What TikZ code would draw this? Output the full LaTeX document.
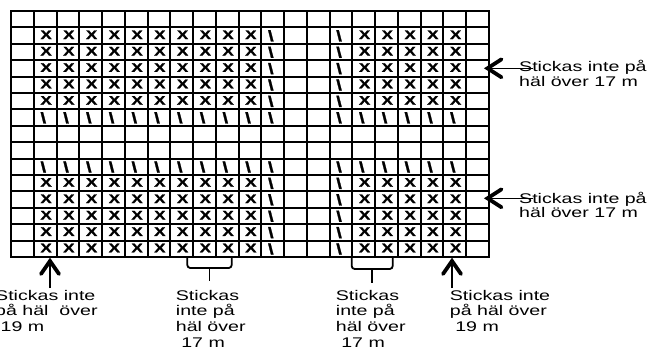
\documentclass[tikz,border=0pt]{standalone}
\usepackage{fontspec}
\setmainfont{Liberation Sans}
\newfontfamily\kcfont[FakeStretch=1.4]{Liberation Sans}
\newfontfamily\kcbold[FakeStretch=1.35,FakeBold=1.5]{Liberation Sans Bold}
\usetikzlibrary{arrows.meta}
\tikzset{
  kcgrid/.style={line width=2pt, line cap=rect},
  kcknit/.style={font=\kcbold\fontsize{12.5}{12.5}\selectfont, inner sep=0pt},
  kcslash/.style={font=\kcbold\fontsize{15}{15}\selectfont, inner sep=0pt},
  kclabel/.style={font=\kcfont\fontsize{14}{15.7}\selectfont, align=left, inner sep=0pt, anchor=base west},
  kcside/.style={kclabel, font=\kcfont\fontsize{14}{14.5}\selectfont},
  kcarrow/.style={line width=1.5pt},
  kchead/.style={line width=3.8pt, line cap=round, line join=miter},
  kcbrace/.style={line width=1.8pt, rounded corners=3pt}
}

\begin{document}
\begin{tikzpicture}[x=1pt,y=-1pt]
  \useasboundingbox (0,0) rectangle (650,349);
  % chart grid: 21 columns by 15 rows
  \foreach \c in {0,...,21}
    \draw[kcgrid] (11+22.75*\c,11) -- (11+22.75*\c,257);
  \foreach \r in {0,...,15}
    \draw[kcgrid] (11,11+16.4*\r) -- (488.75,11+16.4*\r);
  % stitches marked X in the two blocks
  \foreach \r in {2,3,4,5,6,11,12,13,14,15}
    \foreach \c in {2,3,4,5,6,7,8,9,10,11,16,17,18,19,20}
      \node[kcknit] (x-\r-\c) at (22.75*\c+0.6,16.4*\r+2) {X};
  % slanted stitches beside the blocks
  \foreach \r in {2,3,4,5,6,11,12,13,14,15}
    \foreach \c in {12,15}
      \node[kcslash] (s-\r-\c) at (22.75*\c-2.2,16.4*\r+3) {\textbackslash};
  \foreach \r in {7,10}
    \foreach \c in {2,3,4,5,6,7,8,9,10,11,12,15,16,17,18,19,20}
      \node[kcslash] (s-\r-\c) at (22.75*\c-2.2,16.4*\r+3) {\textbackslash};
  % arrows: thin shaft, heavy open head
  \coordinate (tipleft) at (50,261);
  \coordinate (tailleft) at (50,288);
  \coordinate (tipright) at (452,261);
  \coordinate (tailright) at (452,288);
  \coordinate (tiptop) at (487.5,68.3);
  \coordinate (tailtop) at (533,68.3);
  \coordinate (tiplow) at (487.5,198.3);
  \coordinate (taillow) at (533,198.3);
  \draw[kcarrow] (tailleft) -- (tipleft);
  \draw[kcarrow] (tailright) -- (tipright);
  \draw[kcarrow] (tailtop) -- (tiptop);
  \draw[kcarrow] (taillow) -- (tiplow);
  \draw[kchead] (tipleft) ++(-9,13) -- (tipleft) -- ++(9,13);
  \draw[kchead] (tipright) ++(-9,13) -- (tipright) -- ++(9,13);
  \draw[kchead] (tiptop) ++(14,-9) -- (tiptop) -- ++(14,9);
  \draw[kchead] (tiplow) ++(14,-9) -- (tiplow) -- ++(14,9);
  % braces under the chart
  \draw[kcbrace] (187.3,257) -- (187.3,268) -- (231.7,268) -- (231.7,257);
  \draw[kcbrace] (209.5,268) -- (209.5,281);
  \draw[kcbrace] (351.7,257) -- (351.7,269) -- (392.7,269) -- (392.7,257);
  \draw[kcbrace] (372.3,269) -- (372.3,283);
  % labels (anchored at the baseline of their last line)
  \node[kclabel] (lblleft) at (-5,331.4) {Stickas inte\\på häl\ \ över\\~19 m};
  \node[kclabel] (lblmidA) at (175.7,347.1) {Stickas\\inte på\\häl över\\~17 m};
  \node[kclabel] (lblmidB) at (335.7,347.1) {Stickas\\inte på\\häl över\\~17 m};
  \node[kclabel] (lblright) at (449.7,331.4) {Stickas inte\\på häl över\\~19 m};
  \node[kcside] (lbltop) at (519,86) {Stickas inte på\\häl över 17 m};
  \node[kcside] (lbllow) at (519,217.8) {Stickas inte på\\häl över 17 m};
\end{tikzpicture}
\end{document}
